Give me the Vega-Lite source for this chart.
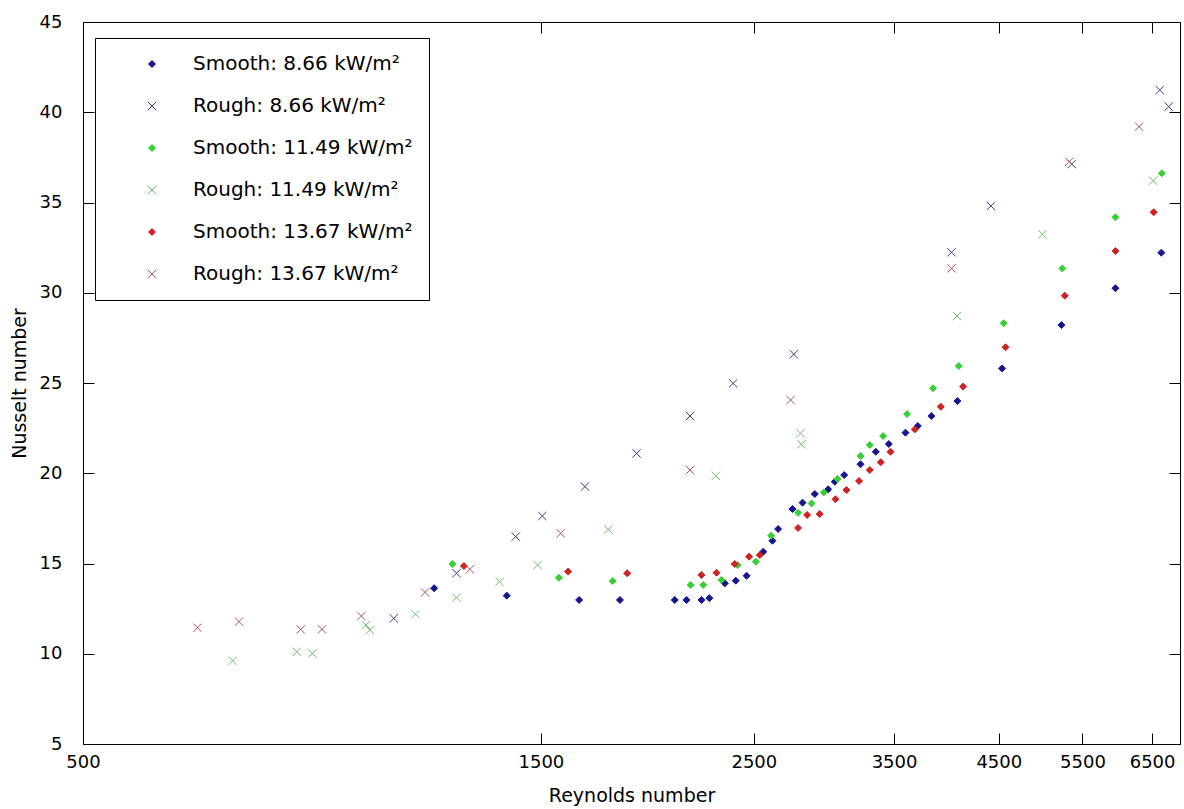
{
  "$schema": "https://vega.github.io/schema/vega-lite/v6.json",
  "width": 1097,
  "height": 722,
  "autosize": {"type": "none"},
  "padding": {"left": 83, "top": 22, "right": 4, "bottom": 65},
  "background": "white",
  "config": {
    "view": {"stroke": "black", "strokeWidth": 1},
    "font": "DejaVu Sans",
    "axis": {
      "labelFont": "DejaVu Sans",
      "titleFont": "DejaVu Sans",
      "labelColor": "black",
      "titleColor": "black",
      "domainColor": "black",
      "tickColor": "black",
      "grid": false,
      "labelFontSize": 18,
      "titleFontSize": 19,
      "titleFontWeight": "normal"
    }
  },
  "datasets": {
    "pts": [
      {"series": "Smooth: 8.66 kW/m²", "re": 1161, "nu": 13.63},
      {"series": "Smooth: 8.66 kW/m²", "re": 1382, "nu": 13.22},
      {"series": "Smooth: 8.66 kW/m²", "re": 1644, "nu": 12.98},
      {"series": "Smooth: 8.66 kW/m²", "re": 1813, "nu": 12.98},
      {"series": "Smooth: 8.66 kW/m²", "re": 2068, "nu": 12.98},
      {"series": "Smooth: 8.66 kW/m²", "re": 2127, "nu": 12.98},
      {"series": "Smooth: 8.66 kW/m²", "re": 2205, "nu": 12.98},
      {"series": "Smooth: 8.66 kW/m²", "re": 2247, "nu": 13.08},
      {"series": "Smooth: 8.66 kW/m²", "re": 2332, "nu": 13.90},
      {"series": "Smooth: 8.66 kW/m²", "re": 2394, "nu": 14.05},
      {"series": "Smooth: 8.66 kW/m²", "re": 2457, "nu": 14.32},
      {"series": "Smooth: 8.66 kW/m²", "re": 2557, "nu": 15.65},
      {"series": "Smooth: 8.66 kW/m²", "re": 2614, "nu": 16.26},
      {"series": "Smooth: 8.66 kW/m²", "re": 2650, "nu": 16.91},
      {"series": "Smooth: 8.66 kW/m²", "re": 2743, "nu": 18.02},
      {"series": "Smooth: 8.66 kW/m²", "re": 2810, "nu": 18.37},
      {"series": "Smooth: 8.66 kW/m²", "re": 2894, "nu": 18.85},
      {"series": "Smooth: 8.66 kW/m²", "re": 2988, "nu": 19.11},
      {"series": "Smooth: 8.66 kW/m²", "re": 3036, "nu": 19.53},
      {"series": "Smooth: 8.66 kW/m²", "re": 3105, "nu": 19.90},
      {"series": "Smooth: 8.66 kW/m²", "re": 3229, "nu": 20.50},
      {"series": "Smooth: 8.66 kW/m²", "re": 3350, "nu": 21.19},
      {"series": "Smooth: 8.66 kW/m²", "re": 3456, "nu": 21.62},
      {"series": "Smooth: 8.66 kW/m²", "re": 3597, "nu": 22.25},
      {"series": "Smooth: 8.66 kW/m²", "re": 3705, "nu": 22.62},
      {"series": "Smooth: 8.66 kW/m²", "re": 3828, "nu": 23.17},
      {"series": "Smooth: 8.66 kW/m²", "re": 4074, "nu": 24.00},
      {"series": "Smooth: 8.66 kW/m²", "re": 4535, "nu": 25.81},
      {"series": "Smooth: 8.66 kW/m²", "re": 5229, "nu": 28.21},
      {"series": "Smooth: 8.66 kW/m²", "re": 5953, "nu": 30.25},
      {"series": "Smooth: 8.66 kW/m²", "re": 6646, "nu": 32.22},
      {"series": "Rough: 8.66 kW/m²", "re": 1054, "nu": 11.96},
      {"series": "Rough: 8.66 kW/m²", "re": 1225, "nu": 14.46},
      {"series": "Rough: 8.66 kW/m²", "re": 1412, "nu": 16.49},
      {"series": "Rough: 8.66 kW/m²", "re": 1505, "nu": 17.63},
      {"series": "Rough: 8.66 kW/m²", "re": 1667, "nu": 19.26},
      {"series": "Rough: 8.66 kW/m²", "re": 1887, "nu": 21.10},
      {"series": "Rough: 8.66 kW/m²", "re": 2145, "nu": 23.17},
      {"series": "Rough: 8.66 kW/m²", "re": 2379, "nu": 24.98},
      {"series": "Rough: 8.66 kW/m²", "re": 2752, "nu": 26.59},
      {"series": "Rough: 8.66 kW/m²", "re": 4017, "nu": 32.24},
      {"series": "Rough: 8.66 kW/m²", "re": 4415, "nu": 34.81},
      {"series": "Rough: 8.66 kW/m²", "re": 5360, "nu": 37.13},
      {"series": "Rough: 8.66 kW/m²", "re": 6620, "nu": 41.23},
      {"series": "Rough: 8.66 kW/m²", "re": 6764, "nu": 40.31},
      {"series": "Smooth: 11.49 kW/m²", "re": 1213, "nu": 14.97},
      {"series": "Smooth: 11.49 kW/m²", "re": 1566, "nu": 14.21},
      {"series": "Smooth: 11.49 kW/m²", "re": 1782, "nu": 14.03},
      {"series": "Smooth: 11.49 kW/m²", "re": 2148, "nu": 13.81},
      {"series": "Smooth: 11.49 kW/m²", "re": 2214, "nu": 13.81},
      {"series": "Smooth: 11.49 kW/m²", "re": 2313, "nu": 14.09},
      {"series": "Smooth: 11.49 kW/m²", "re": 2405, "nu": 14.92},
      {"series": "Smooth: 11.49 kW/m²", "re": 2512, "nu": 15.10},
      {"series": "Smooth: 11.49 kW/m²", "re": 2606, "nu": 16.54},
      {"series": "Smooth: 11.49 kW/m²", "re": 2780, "nu": 17.81},
      {"series": "Smooth: 11.49 kW/m²", "re": 2871, "nu": 18.33},
      {"series": "Smooth: 11.49 kW/m²", "re": 2957, "nu": 18.94},
      {"series": "Smooth: 11.49 kW/m²", "re": 3055, "nu": 19.68},
      {"series": "Smooth: 11.49 kW/m²", "re": 3229, "nu": 20.96},
      {"series": "Smooth: 11.49 kW/m²", "re": 3302, "nu": 21.57},
      {"series": "Smooth: 11.49 kW/m²", "re": 3409, "nu": 22.06},
      {"series": "Smooth: 11.49 kW/m²", "re": 3611, "nu": 23.28},
      {"series": "Smooth: 11.49 kW/m²", "re": 3843, "nu": 24.71},
      {"series": "Smooth: 11.49 kW/m²", "re": 4088, "nu": 25.94},
      {"series": "Smooth: 11.49 kW/m²", "re": 4553, "nu": 28.31},
      {"series": "Smooth: 11.49 kW/m²", "re": 5241, "nu": 31.35},
      {"series": "Smooth: 11.49 kW/m²", "re": 5953, "nu": 34.18},
      {"series": "Smooth: 11.49 kW/m²", "re": 6654, "nu": 36.62},
      {"series": "Rough: 11.49 kW/m²", "re": 716, "nu": 9.61},
      {"series": "Rough: 11.49 kW/m²", "re": 835, "nu": 10.11},
      {"series": "Rough: 11.49 kW/m²", "re": 867, "nu": 10.02},
      {"series": "Rough: 11.49 kW/m²", "re": 986, "nu": 11.59},
      {"series": "Rough: 11.49 kW/m²", "re": 995, "nu": 11.32},
      {"series": "Rough: 11.49 kW/m²", "re": 1110, "nu": 12.19},
      {"series": "Rough: 11.49 kW/m²", "re": 1225, "nu": 13.11},
      {"series": "Rough: 11.49 kW/m²", "re": 1358, "nu": 13.99},
      {"series": "Rough: 11.49 kW/m²", "re": 1488, "nu": 14.92},
      {"series": "Rough: 11.49 kW/m²", "re": 1763, "nu": 16.89},
      {"series": "Rough: 11.49 kW/m²", "re": 2282, "nu": 19.86},
      {"series": "Rough: 11.49 kW/m²", "re": 2796, "nu": 22.21},
      {"series": "Rough: 11.49 kW/m²", "re": 2802, "nu": 21.60},
      {"series": "Rough: 11.49 kW/m²", "re": 4070, "nu": 28.71},
      {"series": "Rough: 11.49 kW/m²", "re": 4996, "nu": 33.24},
      {"series": "Rough: 11.49 kW/m²", "re": 6515, "nu": 36.21},
      {"series": "Smooth: 13.67 kW/m²", "re": 1247, "nu": 14.86},
      {"series": "Smooth: 13.67 kW/m²", "re": 1601, "nu": 14.55},
      {"series": "Smooth: 13.67 kW/m²", "re": 1845, "nu": 14.46},
      {"series": "Smooth: 13.67 kW/m²", "re": 2205, "nu": 14.36},
      {"series": "Smooth: 13.67 kW/m²", "re": 2286, "nu": 14.49},
      {"series": "Smooth: 13.67 kW/m²", "re": 2388, "nu": 14.97},
      {"series": "Smooth: 13.67 kW/m²", "re": 2472, "nu": 15.38},
      {"series": "Smooth: 13.67 kW/m²", "re": 2536, "nu": 15.47},
      {"series": "Smooth: 13.67 kW/m²", "re": 2780, "nu": 16.97},
      {"series": "Smooth: 13.67 kW/m²", "re": 2841, "nu": 17.69},
      {"series": "Smooth: 13.67 kW/m²", "re": 2928, "nu": 17.74},
      {"series": "Smooth: 13.67 kW/m²", "re": 3041, "nu": 18.56},
      {"series": "Smooth: 13.67 kW/m²", "re": 3122, "nu": 19.07},
      {"series": "Smooth: 13.67 kW/m²", "re": 3218, "nu": 19.57},
      {"series": "Smooth: 13.67 kW/m²", "re": 3302, "nu": 20.18},
      {"series": "Smooth: 13.67 kW/m²", "re": 3390, "nu": 20.61},
      {"series": "Smooth: 13.67 kW/m²", "re": 3470, "nu": 21.19},
      {"series": "Smooth: 13.67 kW/m²", "re": 3678, "nu": 22.43},
      {"series": "Smooth: 13.67 kW/m²", "re": 3915, "nu": 23.69},
      {"series": "Smooth: 13.67 kW/m²", "re": 4130, "nu": 24.80},
      {"series": "Smooth: 13.67 kW/m²", "re": 4573, "nu": 26.98},
      {"series": "Smooth: 13.67 kW/m²", "re": 5271, "nu": 29.84},
      {"series": "Smooth: 13.67 kW/m²", "re": 5953, "nu": 32.31},
      {"series": "Smooth: 13.67 kW/m²", "re": 6525, "nu": 34.46},
      {"series": "Rough: 13.67 kW/m²", "re": 658, "nu": 11.44},
      {"series": "Rough: 13.67 kW/m²", "re": 727, "nu": 11.78},
      {"series": "Rough: 13.67 kW/m²", "re": 843, "nu": 11.35},
      {"series": "Rough: 13.67 kW/m²", "re": 887, "nu": 11.35},
      {"series": "Rough: 13.67 kW/m²", "re": 975, "nu": 12.09},
      {"series": "Rough: 13.67 kW/m²", "re": 1136, "nu": 13.40},
      {"series": "Rough: 13.67 kW/m²", "re": 1265, "nu": 14.68},
      {"series": "Rough: 13.67 kW/m²", "re": 1573, "nu": 16.67},
      {"series": "Rough: 13.67 kW/m²", "re": 2145, "nu": 20.18},
      {"series": "Rough: 13.67 kW/m²", "re": 2730, "nu": 24.06},
      {"series": "Rough: 13.67 kW/m²", "re": 4017, "nu": 31.35},
      {"series": "Rough: 13.67 kW/m²", "re": 5330, "nu": 37.26},
      {"series": "Rough: 13.67 kW/m²", "re": 6300, "nu": 39.20}
    ]
  },
  "data": {"name": "pts"},
  "layer": [
    {
      "mark": {"type": "point", "opacity": 1, "size": 49, "strokeWidth": 1},
      "encoding": {
        "x": {
          "field": "re", "type": "quantitative", "title": "Reynolds number",
          "scale": {"type": "log", "domain": [500, 6950], "nice": false},
          "axis": {
            "orient": "bottom",
            "values": [500, 1500, 2500, 3500, 4500, 5500, 6500],
            "format": "d", "labelFlush": false, "labelOverlap": false,
            "tickSize": -11, "labelPadding": 20, "titlePadding": 15
          }
        },
        "y": {
          "field": "nu", "type": "quantitative", "title": "Nusselt number",
          "scale": {"domain": [5, 45], "nice": false, "zero": false},
          "axis": {
            "orient": "left",
            "values": [5, 10, 15, 20, 25, 30, 35, 40, 45],
            "labelFlush": false, "labelOverlap": false,
            "tickSize": -11, "labelPadding": 32, "titlePadding": 10,
            "encode": {"labels": {"update": {"dy": {"signal": "datum.value === 5 ? -3 : 0"}}}}
          }
        },
        "fill": {
          "field": "series", "type": "nominal",
          "scale": {
            "domain": ["Smooth: 8.66 kW/m²", "Rough: 8.66 kW/m²", "Smooth: 11.49 kW/m²", "Rough: 11.49 kW/m²", "Smooth: 13.67 kW/m²", "Rough: 13.67 kW/m²"],
            "range": ["#15158f", "#3c3c78", "#36d036", "#6cbf6c", "#cf2222", "#a85858"]
          },
          "legend": {
            "title": null, "orient": "none", "legendX": 12, "legendY": 16,
            "strokeColor": "black", "fillColor": "white", "padding": 16,
            "labelFont": "DejaVu Sans", "labelFontSize": 20, "labelColor": "black",
            "rowPadding": 22, "symbolOffset": 31, "labelOffset": 31,
            "symbolSize": 49, "symbolStrokeWidth": 1, "labelLimit": 400
          }
        },
        "stroke": {
          "field": "series", "type": "nominal",
          "scale": {
            "domain": ["Smooth: 8.66 kW/m²", "Rough: 8.66 kW/m²", "Smooth: 11.49 kW/m²", "Rough: 11.49 kW/m²", "Smooth: 13.67 kW/m²", "Rough: 13.67 kW/m²"],
            "range": ["#15158f", "#3c3c78", "#36d036", "#6cbf6c", "#cf2222", "#a85858"]
          },
          "legend": {
            "title": null, "orient": "none", "legendX": 12, "legendY": 16,
            "strokeColor": "black", "fillColor": "white", "padding": 16,
            "labelFont": "DejaVu Sans", "labelFontSize": 20, "labelColor": "black",
            "rowPadding": 22, "symbolOffset": 31, "labelOffset": 31,
            "symbolSize": 49, "symbolStrokeWidth": 1, "labelLimit": 400
          }
        },
        "shape": {
          "field": "series", "type": "nominal",
          "scale": {
            "domain": ["Smooth: 8.66 kW/m²", "Rough: 8.66 kW/m²", "Smooth: 11.49 kW/m²", "Rough: 11.49 kW/m²", "Smooth: 13.67 kW/m²", "Rough: 13.67 kW/m²"],
            "range": ["diamond", "M-1.2,-1.2L1.2,1.2M1.2,-1.2L-1.2,1.2", "diamond", "M-1.2,-1.2L1.2,1.2M1.2,-1.2L-1.2,1.2", "diamond", "M-1.2,-1.2L1.2,1.2M1.2,-1.2L-1.2,1.2"]
          },
          "legend": {
            "title": null, "orient": "none", "legendX": 12, "legendY": 16,
            "strokeColor": "black", "fillColor": "white", "padding": 16,
            "labelFont": "DejaVu Sans", "labelFontSize": 20, "labelColor": "black",
            "rowPadding": 22, "symbolOffset": 31, "labelOffset": 31,
            "symbolSize": 49, "symbolStrokeWidth": 1, "labelLimit": 400
          }
        }
      }
    },
    {
      "mark": {"type": "point", "opacity": 0},
      "encoding": {
        "x": {
          "field": "re", "type": "quantitative",
          "axis": {
            "orient": "top", "title": null, "labels": false,
            "values": [500, 1500, 2500, 3500, 4500, 5500, 6500],
            "tickSize": -11, "domain": false
          }
        },
        "y": {
          "field": "nu", "type": "quantitative",
          "axis": {
            "orient": "right", "title": null, "labels": false,
            "values": [5, 10, 15, 20, 25, 30, 35, 40, 45],
            "tickSize": -11, "domain": false
          }
        }
      }
    }
  ],
  "resolve": {"axis": {"x": "independent", "y": "independent"}}
}
